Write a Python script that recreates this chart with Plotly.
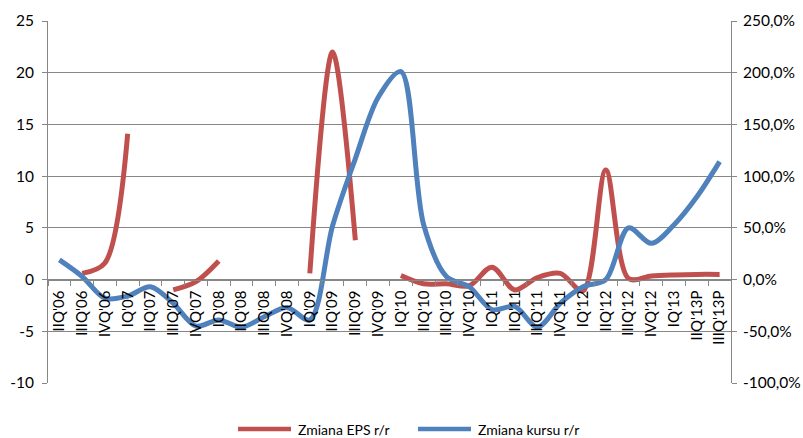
import plotly.graph_objects as go

quarters = ["IIQ'06", "IIIQ'06", "IVQ'06", "IQ'07", "IIQ'07", "IIIQ'07", "IVQ'07", "IQ'08",
            "IIQ'08", "IIIQ'08", "IVQ'08", "IQ'09", "IIQ'09", "IIIQ'09", "IVQ'09", "IQ'10",
            "IIQ'10", "IIIQ'10", "IVQ'10", "IQ'11", "IIQ'11", "IIIQ'11", "IVQ'11", "IQ'12",
            "IIQ'12", "IIIQ'12", "IVQ'12", "IQ'13", "IIQ'13P", "IIIQ'13P"]

# EPS change y/y (left axis); None leaves a gap in the line
eps_change = [None, 0.6, 1.6, 14.1, None, -1.0, -0.2, 1.8,
              None, None, None, 0.6, 22.0, 3.8, None, 0.4,
              -0.4, -0.4, -0.6, 1.2, -1.0, 0.2, 0.6, -1.1,
              10.6, 0.1, 0.35, 0.45, 0.5, 0.5]

# share price change y/y in % (right axis)
price_change = [19, 3, -18, -16, -7, -23, -45, -39,
                -46, -36, -27, -39, 52, 117, 176, 201,
                53, 3, -7, -29, -26, -46, -23, -7,
                0, 50, 35, 53, 80, 114]

left_ticks = [-10, -5, 0, 5, 10, 15, 20, 25]
left_labels = ["-10", "-5", "0", "5", "10", "15", "20", "25"]
right_ticks = [-100, -50, 0, 50, 100, 150, 200, 250]
right_labels = ["-100,0%", "-50,0%", "0,0%", "50,0%", "100,0%", "150,0%", "200,0%", "250,0%"]

series_names = ["Zmiana EPS r/r", "Zmiana kursu r/r"]

RED = "#C0504D"
BLUE = "#4F81BD"
GRID = "#878787"
FONT = "Lato"

W, H = 803, 438
ML, MR, MT, MB = 48, 72, 21, 55

fig = go.Figure()
fig.add_trace(go.Scatter(
    x=quarters, y=eps_change, name=series_names[0], mode="lines",
    line=dict(color=RED, width=5, shape="spline", smoothing=0.9),
    connectgaps=False, yaxis="y", showlegend=False))
fig.add_trace(go.Scatter(
    x=quarters, y=price_change, name=series_names[1], mode="lines",
    line=dict(color=BLUE, width=5, shape="spline", smoothing=0.9),
    yaxis="y2", showlegend=False))

ymin, ymax = left_ticks[0], left_ticks[-1]
zero_pos = (0 - ymin) / (ymax - ymin)

# legend drawn below the plot without shrinking the plotting area
plot_w = W - ML - MR
plot_h = H - MT - MB


def px_x(p):
    return (p - ML) / plot_w


def px_y(p):
    return (H - MB - p) / plot_h


legend_y = px_y(429)
for (x0, x1, tx), color, label in zip([(238, 291, 296), (418, 471, 476)], [RED, BLUE], series_names):
    fig.add_shape(type="line", xref="paper", yref="paper",
                  x0=px_x(x0), x1=px_x(x1), y0=legend_y, y1=legend_y,
                  line=dict(color=color, width=4.5))
    fig.add_annotation(xref="paper", yref="paper", x=px_x(tx), y=legend_y,
                       text=label, showarrow=False, xanchor="left", yanchor="middle",
                       font=dict(size=14, family=FONT, color="#000000"))

fig.update_layout(
    width=W, height=H,
    margin=dict(l=ML, r=MR, t=MT, b=MB, autoexpand=False),
    paper_bgcolor="white", plot_bgcolor="white",
    font=dict(family=FONT, size=14, color="#000000"),
    showlegend=False,
    xaxis=dict(
        type="category", anchor="free", position=zero_pos,
        showline=True, linecolor=GRID, linewidth=1,
        ticks="outside", tickson="boundaries", ticklen=5, tickcolor=GRID,
        tickangle=-90, showgrid=False, zeroline=False, ticklabelstandoff=4,
        tickfont=dict(size=15), range=[-0.5, len(quarters) - 0.5]),
    yaxis=dict(
        range=[ymin, ymax], tickvals=left_ticks, ticktext=left_labels,
        showline=True, linecolor=GRID, linewidth=1, ticks="outside", ticklen=5,
        tickcolor=GRID, showgrid=True, gridcolor=GRID, gridwidth=1, zeroline=False,
        ticklabelstandoff=5, tickfont=dict(size=15.5)),
    yaxis2=dict(
        range=[right_ticks[0], right_ticks[-1]], tickvals=right_ticks, ticktext=right_labels,
        overlaying="y", side="right", anchor="x",
        showline=True, linecolor=GRID, linewidth=1, ticks="outside", ticklen=5,
        tickcolor=GRID, showgrid=False, zeroline=False, ticklabelstandoff=3,
        tickfont=dict(size=15.5)),
)

fig.write_html("out.html")
